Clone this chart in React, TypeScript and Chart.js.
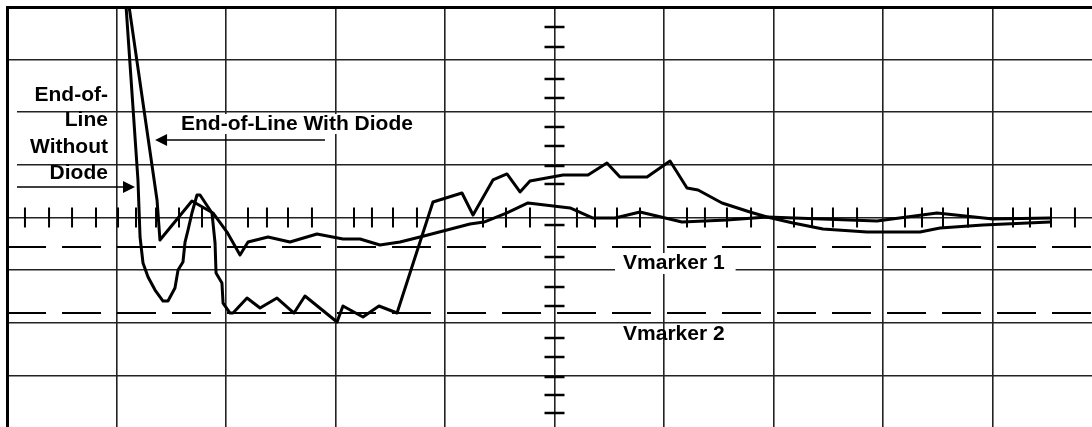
import React, { useEffect, useRef } from "react";
import { Chart, registerables } from "chart.js";

Chart.register(...registerables);

// Oscilloscope screen: 10 horizontal divisions, 8 vertical divisions (centre = 0)
const withoutDiodeX = [1.087, 1.196, 1.215, 1.242, 1.288, 1.352, 1.425, 1.47, 1.534, 1.562, 1.607, 1.626, 1.653, 1.689, 1.735, 1.763, 1.872, 1.9, 1.909, 1.963, 1.973, 2.037, 2.064, 2.192, 2.311, 2.466, 2.621, 2.721, 3.014, 3.068, 3.251, 3.397, 3.562, 3.89, 4.155, 4.256, 4.438, 4.566, 4.685, 4.776, 5.078, 5.306, 5.479, 5.598, 5.845, 6.055, 6.21, 6.311, 6.53, 6.785, 6.941, 7.178, 7.452, 7.854, 8.338, 8.521, 8.913, 9.525];
const withoutDiodeY = [4.02, 0.713, -0.371, -0.865, -1.131, -1.378, -1.587, -1.587, -1.34, -0.998, -0.846, -0.466, -0.238, 0.086, 0.428, 0.428, 0.086, -0.485, -1.055, -1.245, -1.625, -1.815, -1.815, -1.53, -1.72, -1.53, -1.815, -1.492, -1.986, -1.682, -1.891, -1.682, -1.815, 0.295, 0.466, 0.048, 0.713, 0.827, 0.485, 0.694, 0.808, 0.808, 1.036, 0.77, 0.77, 1.074, 0.561, 0.523, 0.276, 0.105, 0.01, -0.105, -0.219, -0.276, -0.276, -0.2, -0.143, -0.086];

const withDiodeX = [1.114, 1.37, 1.397, 1.689, 1.881, 2.009, 2.128, 2.201, 2.384, 2.584, 2.831, 3.068, 3.224, 3.406, 3.589, 3.772, 4.018, 4.228, 4.356, 4.566, 4.758, 5.142, 5.352, 5.553, 5.781, 6.164, 6.575, 6.941, 7.945, 8.493, 9.005, 9.525];
const withDiodeY = [4.02, 0.333, -0.428, 0.314, 0.086, -0.276, -0.713, -0.466, -0.371, -0.466, -0.314, -0.409, -0.409, -0.523, -0.466, -0.371, -0.238, -0.124, -0.086, 0.086, 0.276, 0.181, -0.01, -0.01, 0.105, -0.086, -0.048, 0.01, -0.067, 0.086, -0.029, -0.01];

const markerLevels = [-0.561, -1.815];
const markerLabels = ["Vmarker 1", "Vmarker 2"];

// minor tick marks on the centre cross
const hTickX = [0.164, 0.384, 0.594, 0.813, 1.014, 1.178, 1.361, 1.571, 1.781, 2.201, 2.374, 2.566, 2.785, 3.169, 3.333, 3.525, 3.744, 4.347, 4.557, 4.776, 5.205, 5.37, 5.571, 5.781, 6.21, 6.374, 6.575, 6.795, 7.187, 7.352, 7.543, 7.763, 8.201, 8.356, 8.548, 8.776, 9.187, 9.342, 9.534, 9.753];
const vTickY = [3.62, 3.24, 2.632, 2.271, 1.72, 1.359, 0.979, 0.637, -0.143, -0.751, -1.321, -1.682, -2.29, -2.651, -3.031, -3.373, -3.715];

// annotation anchors (data units)
const withoutLabelLines = ["End-of-", "Line", "Without", "Diode"];
const withoutLabelRightX = 0.922;
const withoutLabelBaselines = [2.214, 1.739, 1.226, 0.732];
const withoutArrow = { fromX: 0.091, toX: 1.169, y: 0.58 };
const withLabel = "End-of-Line With Diode";
const withLabelCenterX = 2.648;
const withLabelBaseline = 1.663;
const withArrow = { fromX: 2.904, toX: 1.352, y: 1.473 };
const markerLabelLeftX = 5.626;
const markerLabelBaselines = [-0.979, -2.328];

const W = 1120;
const H = 440;
const FONT = 'bold 21px "Liberation Sans", Arial, Helvetica, sans-serif';

const annotations = {
  id: "annotations",
  afterDraw(chart: any) {
    const { ctx, chartArea } = chart;
    const xs = chart.scales.x;
    const ys = chart.scales.y;
    const px = (v: number) => xs.getPixelForValue(v);
    const py = (v: number) => ys.getPixelForValue(v);
    ctx.save();
    ctx.font = FONT;
    ctx.fillStyle = "#fff";

    // white patch left of the "without diode" label
    ctx.fillRect(chartArea.left + 2, py(2.6), px(withoutArrow.fromX) - chartArea.left - 2, py(0.6) - py(2.6));

    // "With Diode" label box + text
    const ww = ctx.measureText(withLabel).width;
    const wx = px(withLabelCenterX) - ww / 2;
    const wb = py(withLabelBaseline);
    ctx.fillStyle = "#fff";
    ctx.fillRect(wx - 6, wb - 16, ww + 12, 20);
    ctx.fillStyle = "#000";
    ctx.textBaseline = "alphabetic";
    ctx.textAlign = "left";
    ctx.fillText(withLabel, wx, wb);

    // marker label 1 has a white box over the grid line
    const m1w = ctx.measureText(markerLabels[0]).width;
    const m1x = px(markerLabelLeftX);
    const m1b = py(markerLabelBaselines[0]);
    ctx.fillStyle = "#fff";
    ctx.fillRect(m1x - 8, m1b - 16, m1w + 19, 21);
    ctx.fillStyle = "#000";
    ctx.fillText(markerLabels[0], m1x, m1b);
    ctx.fillText(markerLabels[1], px(markerLabelLeftX), py(markerLabelBaselines[1]));

    // "Without Diode" multi-line label, right aligned
    ctx.textAlign = "right";
    withoutLabelLines.forEach((t, i) => {
      ctx.fillText(t, px(withoutLabelRightX), py(withoutLabelBaselines[i]));
    });

    // arrows
    const arrow = (fromX: number, toX: number, y: number, head: number, half: number) => {
      const x0 = px(fromX);
      const x1 = px(toX);
      const yy = py(y);
      const dir = x1 > x0 ? 1 : -1;
      ctx.strokeStyle = "#000";
      ctx.lineWidth = 1.5;
      ctx.beginPath();
      ctx.moveTo(x0, yy);
      ctx.lineTo(x1 - dir * head, yy);
      ctx.stroke();
      ctx.fillStyle = "#000";
      ctx.beginPath();
      ctx.moveTo(x1, yy);
      ctx.lineTo(x1 - dir * head, yy - half);
      ctx.lineTo(x1 - dir * head, yy + half);
      ctx.closePath();
      ctx.fill();
    };
    arrow(withoutArrow.fromX, withoutArrow.toX, withoutArrow.y, 12, 6);
    arrow(withArrow.fromX, withArrow.toX, withArrow.y, 12, 6);
    ctx.restore();
  },
};

export default function App() {
  const ref = useRef<HTMLCanvasElement | null>(null);
  useEffect(() => {
    document.body.style.margin = "0";
    const canvas = ref.current!;
    const trace = (xs: number[], ys: number[]) => xs.map((x, i) => ({ x, y: ys[i] }));
    const chart = new Chart(canvas, {
      type: "scatter",
      data: {
        datasets: [
          {
            data: trace(withoutDiodeX, withoutDiodeY),
            showLine: true,
            borderColor: "#000",
            borderWidth: 3,
            pointRadius: 0,
            borderJoinStyle: "round",
            borderCapStyle: "round",
          } as any,
          {
            data: trace(withDiodeX, withDiodeY),
            showLine: true,
            borderColor: "#000",
            borderWidth: 3,
            pointRadius: 0,
            borderJoinStyle: "round",
            borderCapStyle: "round",
          },
          ...markerLevels.map((lv) => ({
            data: [
              { x: 0, y: lv },
              { x: 10, y: lv },
            ],
            showLine: true,
            borderColor: "#000",
            borderWidth: 2.2,
            borderDash: [39, 16],
            pointRadius: 0,
          })),
          {
            data: hTickX.map((x) => ({ x, y: 0 })),
            showLine: false,
            pointStyle: "line",
            pointRotation: 90,
            pointRadius: 10,
            pointBorderWidth: 2,
            pointBorderColor: "#000",
            pointBackgroundColor: "#000",
          },
          {
            data: vTickY.map((y) => ({ x: 5, y })),
            showLine: false,
            pointStyle: "line",
            pointRotation: 0,
            pointRadius: 10,
            pointBorderWidth: 2.5,
            pointBorderColor: "#000",
            pointBackgroundColor: "#000",
          },
        ] as any,
      },
      options: {
        animation: false,
        responsive: false,
        maintainAspectRatio: false,
        events: [],
        layout: { autoPadding: false, padding: { left: 7, top: 7, right: W - 1102, bottom: H - 428 } },
        plugins: { legend: { display: false }, tooltip: { enabled: false } },
        scales: {
          x: {
            type: "linear",
            position: "top",
            min: 0,
            max: 10,
            ticks: { display: false, stepSize: 1 },
            grid: { color: "#222", lineWidth: 1.6, drawTicks: false },
            border: { display: true, color: "#000", width: 3 },
          },
          y: {
            type: "linear",
            min: -4,
            max: 4,
            ticks: { display: false, stepSize: 1 },
            grid: { color: "#222", lineWidth: 1.6, drawTicks: false },
            border: { display: true, color: "#000", width: 3 },
          },
        },
      },
      plugins: [annotations],
    } as any);
    return () => chart.destroy();
  }, []);
  return (
    <div
      style={{
        position: "fixed",
        left: 0,
        top: 0,
        width: 1092,
        height: 427,
        overflow: "hidden",
        background: "#fff",
      }}
    >
      <canvas ref={ref} width={W} height={H} style={{ width: W, height: H, display: "block" }} />
    </div>
  );
}
